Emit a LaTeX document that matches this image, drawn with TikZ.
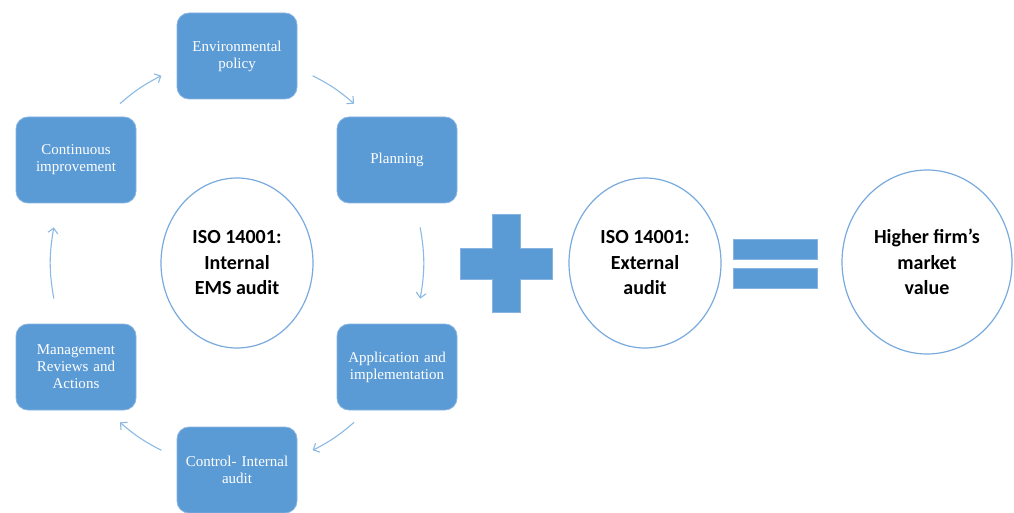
\documentclass[tikz,border=0pt]{standalone}
\usepackage{fontspec}
\setmainfont{Liberation Serif}
\newfontfamily\calibri{Carlito}
\usetikzlibrary{calc,shapes.geometric,arrows.meta}

\definecolor{boxblue}{RGB}{91,155,213}
\definecolor{edgeblue}{RGB}{135,180,225}
\definecolor{ringblue}{RGB}{120,170,222}
\definecolor{arrowblue}{RGB}{140,185,228}

\tikzset{
  stage/.style={draw=edgeblue, line width=0.8pt, fill=boxblue, rounded corners=12pt,
    minimum width=120pt, minimum height=86pt, text width=112pt, inner sep=0pt,
    align=center, text=white, font=\fontsize{15}{17}\selectfont},
  audit/.style={ellipse, draw=ringblue, line width=1.2pt, fill=white, inner sep=0pt,
    minimum width=152pt, minimum height=170pt, align=center,
    font=\calibri\bfseries\fontsize{20}{25.5}\selectfont},
  cyc/.style={draw=arrowblue, line width=1.1pt, -{Straight Barb[length=5pt,width=10pt]}},
  sign/.style={fill=boxblue, draw=edgeblue, line width=0.6pt}
}

\begin{document}
\begin{tikzpicture}[x=1pt,y=-1pt]
  \useasboundingbox (0,0) rectangle (1014,513);

  % Hub of the cycle: centre of the ring of arrows (ellipse 186 x 205)
  \coordinate (hub) at (237,263);

  % Stages of the cycle
  \node[stage] (env)  at (237,56)  {Environmental\\policy};
  \node[stage] (plan) at (397,160) {Planning};
  \node[stage] (app)  at (397,367) {Application and\\implementation};
  \node[stage] (ctrl) at (237,470) {Control- Internal\\audit};
  \node[stage] (mgmt) at (76,367)  {Management\\Reviews and\\Actions};
  \node[stage] (cont) at (76,160)  {Continuous\\improvement};

  % Internal audit in the middle
  \node[audit] (isoint) at (hub) {ISO 14001:\\Internal\\EMS audit};

  % Ends of the arrows on the ring
  \coordinate (cont-out) at ($(hub)+(-129:186 and 205)$);
  \coordinate (env-in)   at ($(hub)+(-114:186 and 205)$);
  \coordinate (env-out)  at ($(hub)+(-66:186 and 205)$);
  \coordinate (plan-in)  at ($(hub)+(-51:186 and 205)$);
  \coordinate (plan-out) at ($(hub)+(-10:186 and 205)$);
  \coordinate (app-in)   at ($(hub)+(10:186 and 205)$);
  \coordinate (app-out)  at ($(hub)+(51:186 and 205)$);
  \coordinate (ctrl-in)  at ($(hub)+(66:186 and 205)$);
  \coordinate (ctrl-out) at ($(hub)+(114:186 and 205)$);
  \coordinate (mgmt-in)  at ($(hub)+(129:186 and 205)$);
  \coordinate (mgmt-out) at ($(hub)+(170:186 and 205)$);
  \coordinate (cont-in)  at ($(hub)+(-170:186 and 205)$);

  % Arrows (clockwise)
  \draw[cyc] (cont-out) to[bend left=7]  (env-in);
  \draw[cyc] (env-out)  to[bend left=7]  (plan-in);
  \draw[cyc] (plan-out) to[bend left=10] (app-in);
  \draw[cyc] (app-out)  to[bend left=7]  (ctrl-in);
  \draw[cyc] (ctrl-out) to[bend left=7]  (mgmt-in);
  \draw[cyc] (mgmt-out) to[bend left=10] (cont-in);

  % Plus sign
  \draw[sign] (492,214) -- (520,214) -- (520,248) -- (552,248) -- (552,279)
    -- (520,279) -- (520,312) -- (492,312) -- (492,279) -- (460,279)
    -- (460,248) -- (492,248) -- cycle;

  % External audit
  \node[audit] (isoext) at (645,263) {ISO 14001:\\External\\audit};

  % Equals sign
  \draw[sign] (733,239) rectangle (817,259);
  \draw[sign] (733,268) rectangle (817,288);

  % Result
  \node[audit, minimum width=170pt, minimum height=184pt] (value) at (927,262)
    {Higher firm’s\\market\\value};
\end{tikzpicture}
\end{document}
